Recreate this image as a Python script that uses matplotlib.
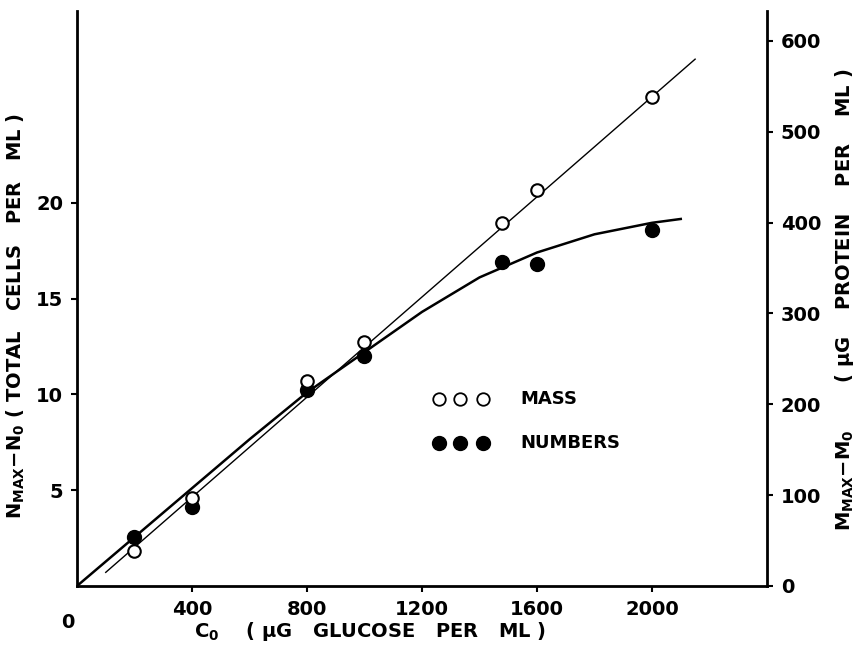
import matplotlib.pyplot as plt

# values
glucose = [200, 400, 800, 1000, 1480, 1600, 2000]
mass = [38, 97, 226, 269, 400, 436, 538]          # ug protein per ml (right axis)
numbers = [2.55, 4.1, 10.2, 12.0, 16.9, 16.8, 18.6]  # total cells per ml (left axis)

mass_line_x = [100, 2150]
mass_line_y = [15, 580]

numbers_curve_x = [0, 200, 400, 600, 800, 1000, 1200, 1400, 1600, 1800, 2000, 2100]
numbers_curve_y = [0, 2.55, 5.1, 7.65, 10.1, 12.2, 14.3, 16.1, 17.4, 18.35, 18.95, 19.15]

x_ticks = [400, 800, 1200, 1600, 2000]
left_ticks = [5, 10, 15, 20]
right_ticks = [0, 100, 200, 300, 400, 500, 600]

plt.rcParams["font.family"] = ["DejaVu Sans"]
plt.rcParams["font.weight"] = "bold"
plt.rcParams["mathtext.default"] = "regular"

fig = plt.figure(figsize=(8.62, 6.48), dpi=100)
ax = fig.add_axes([0.0893, 0.0957, 0.8005, 0.8873])
ax2 = ax.twinx()

ax.set_xlim(0, 2400)
ax.set_ylim(0, 30)
ax2.set_ylim(0, 633)

for a in (ax, ax2):
    a.spines["top"].set_visible(False)
    for s in ("left", "right", "bottom"):
        a.spines[s].set_linewidth(2)
ax.spines["right"].set_visible(False)
ax2.spines["left"].set_visible(False)
ax2.spines["bottom"].set_visible(False)

ax.set_xticks(x_ticks)
ax.set_yticks(left_ticks)
ax2.set_yticks(right_ticks)
ax.tick_params(axis="both", direction="out", length=4, width=1.5, labelsize=14, pad=6)
ax2.tick_params(axis="y", direction="out", length=4, width=1.5, labelsize=14, pad=6)
for lab in ax.get_xticklabels() + ax.get_yticklabels() + ax2.get_yticklabels():
    lab.set_fontweight("bold")

# stray "0" at the lower-left corner
ax.text(-0.013, -0.063, "0", transform=ax.transAxes, fontsize=14,
        fontweight="bold", ha="center", va="center")

# fitted lines
ax2.plot(mass_line_x, mass_line_y, color="black", lw=1.0)
ax.plot(numbers_curve_x, numbers_curve_y, color="black", lw=1.8)

# data points
ax.plot(glucose, numbers, "o", color="black", ms=10, zorder=5)
ax2.plot(glucose, mass, "o", mfc="white", mec="black", mew=1.5, ms=9, zorder=6)

# legend drawn by hand
for xf in [0.524, 0.555, 0.589]:
    ax.plot(xf, 0.325, "o", mfc="white", mec="black", mew=1.3, ms=9,
            transform=ax.transAxes, clip_on=False)
    ax.plot(xf, 0.248, "o", color="black", ms=10,
            transform=ax.transAxes, clip_on=False)
ax.text(0.642, 0.325, "MASS", transform=ax.transAxes, fontsize=13,
        fontweight="bold", va="center")
ax.text(0.642, 0.248, "NUMBERS", transform=ax.transAxes, fontsize=13,
        fontweight="bold", va="center")

ax.set_xlabel(r"C$_0$    ( $\mu$G   GLUCOSE   PER   ML )", fontsize=14,
              fontweight="bold")
ax.set_ylabel(r"N$_{MAX}$$-$N$_0$ ( TOTAL   CELLS   PER   ML )", fontsize=14,
              fontweight="bold")
ax2.set_ylabel(r"M$_{MAX}$$-$M$_0$       ( $\mu$G    PROTEIN    PER    ML )",
               fontsize=14, fontweight="bold")
ax.yaxis.set_label_coords(-0.073, 0.47)
ax.xaxis.set_label_coords(0.425, -0.060)
ax2.yaxis.set_label_coords(1.095, 0.497)

fig.savefig("out.png", dpi=100)
